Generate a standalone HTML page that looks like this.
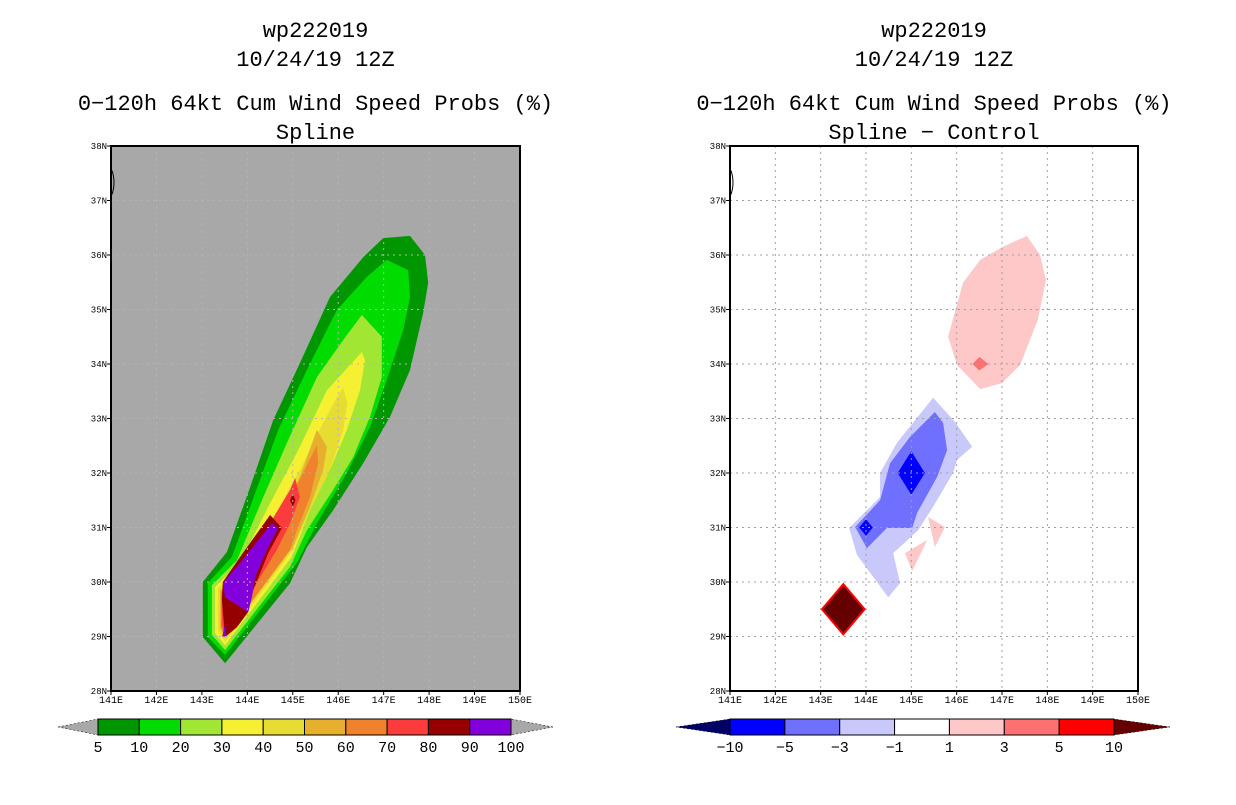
<!DOCTYPE html>
<html><head><meta charset="utf-8">
<style>
html,body{margin:0;padding:0;background:#fff;}
body{width:1236px;height:800px;overflow:hidden;font-family:"Liberation Sans",sans-serif;}
svg text{font-family:"Liberation Mono",monospace;}
</style></head>
<body>
<svg id="chart" width="1236" height="800">
<g id="left"></g>
<g id="right"></g>
</svg>
<script>
// ---- data ----
const lonTicks = [141,142,143,144,145,146,147,148,149,150];
const latTicks = [28,29,30,31,32,33,34,35,36,37,38];
const leftLevels = ["5","10","20","30","40","50","60","70","80","90","100"];
const leftColors = ["#009600","#00dc00","#a0e632","#f5f032","#e6dc32","#e6af2d","#f0822d","#fa3c3c","#960000","#8200dc"];
const rightLevels = ["−10","−5","−3","−1","1","3","5","10"];
const rightColors = ["#0000ff","#7070ff","#c8c8fa","#ffffff","#ffc8c8","#ff7070","#ff0000"];
// contour polygons [lon,lat]
const p05 = [[143.51,28.51],[143.02,28.99],[143.02,30.0],[143.55,30.55],[144.06,31.74],[144.57,32.97],[145.16,34.02],[145.82,35.23],[146.55,35.96],[146.99,36.31],[147.58,36.35],[147.91,36.0],[147.98,35.49],[147.87,34.94],[147.58,33.89],[147.14,33.03],[146.55,32.18],[145.89,31.32],[145.31,30.64],[144.94,29.98]];
const p10 = [[143.51,28.66],[143.13,28.99],[143.13,29.98],[143.66,30.46],[144.17,31.63],[144.68,32.79],[145.31,33.89],[145.97,34.99],[146.63,35.6],[147.07,35.91],[147.54,35.72],[147.58,35.23],[147.43,34.62],[147.07,33.71],[146.7,32.84],[146.19,32.0],[145.53,31.08],[145.09,30.35]];
const p20 = [[143.51,28.75],[143.22,29.03],[143.22,29.94],[143.77,30.4],[144.32,31.5],[144.87,32.55],[145.53,33.76],[146.11,34.44],[146.52,34.9],[146.96,34.5],[146.96,33.76],[146.7,33.03],[146.33,32.29],[145.89,31.69],[145.31,30.95],[144.94,30.28]];
const p30 = [[143.51,28.84],[143.29,29.06],[143.29,29.91],[143.84,30.35],[144.46,31.38],[145.09,32.37],[145.75,33.52],[146.52,34.22],[146.59,34.07],[146.48,33.52],[146.19,32.79],[145.82,32.06],[145.38,31.32],[144.98,30.46]];
const p40 = [[143.51,28.9],[143.35,29.12],[143.35,29.89],[143.95,30.28],[144.57,31.19],[145.16,32.06],[145.67,32.92],[145.97,33.39],[146.11,33.57],[146.2,33.28],[146.11,32.79],[145.82,32.06],[145.38,31.32],[145.0,30.59]];
const p50 = [[143.51,28.97],[143.4,29.16],[143.4,29.85],[143.99,30.22],[144.65,31.08],[145.16,31.93],[145.53,32.79],[145.75,32.48],[145.67,32.06],[145.38,31.38],[145.0,30.64]];
const p60 = [[143.51,28.99],[143.42,29.17],[143.42,29.82],[144.02,30.17],[144.65,30.95],[145.0,31.63],[145.53,32.51],[145.56,32.18],[145.38,31.56],[145.09,30.95],[144.94,30.59]];
const p70 = [[143.51,29.03],[143.44,29.21],[143.44,29.8],[144.06,30.09],[144.5,31.08],[144.94,31.69],[145.05,31.91],[145.16,31.56],[144.94,31.08],[144.65,30.59]];
const p80 = [[143.51,28.99],[143.44,29.67],[143.46,30.0],[143.9,30.53],[144.5,31.23],[144.76,30.99],[144.46,30.53],[144.13,29.85],[144.02,29.45],[143.77,29.17]];
const p80b = [[145.0,31.62],[145.06,31.5],[145.0,31.38],[144.94,31.5]];
const p90 = [[143.46,29.98],[143.84,30.35],[144.54,31.08],[144.68,30.99],[144.43,30.59],[144.17,30.09],[144.1,29.72],[144.02,29.45],[143.68,29.63],[143.51,29.72]];
const p90b = [[143.5,29.2],[143.55,29.0],[143.45,29.0]];
const leftPolys = [p05,p10,p20,p30,p40,p50,p60,p70,p80,p80b,p90,p90b];
const leftPolyLevel = [0,1,2,3,4,5,6,7,8,8,9,9];

const rPink = [[145.81,34.5],[146.14,35.49],[146.52,35.91],[147.02,36.15],[147.55,36.35],[147.84,36.0],[147.97,35.54],[147.79,34.81],[147.4,33.98],[147.0,33.65],[146.52,33.54],[146.01,33.98]];
const rRed = [[146.5,34.13],[146.7,34.0],[146.5,33.88],[146.35,34.0]];
const rLtBlue = [[143.63,30.99],[144.31,31.56],[144.31,32.0],[144.68,32.55],[145.48,33.38],[145.96,32.94],[146.34,32.48],[146.01,32.24],[145.92,32.0],[145.48,31.38],[145.15,30.95],[144.6,30.53],[144.75,29.98],[144.49,29.72],[143.8,30.5]];
const rMidBlue = [[143.76,31.01],[144.31,31.5],[144.53,32.18],[144.97,32.66],[145.52,33.12],[145.7,32.92],[145.79,32.42],[145.57,31.93],[145.13,31.27],[145.02,30.99],[144.46,30.99],[144.02,30.62]];
const rBlue1 = [[145.0,32.4],[145.3,32.0],[145.0,31.6],[144.7,32.0]];
const rBlue2 = [[144.0,31.15],[144.15,31.0],[144.0,30.85],[143.85,31.0]];
const rPinkT1 = [[145.37,31.19],[145.74,31.01],[145.52,30.64]];
const rPinkT2 = [[144.86,30.53],[145.35,30.77],[145.02,30.2]];
const rDark = [[143.5,29.96],[143.97,29.5],[143.5,29.04],[143.03,29.5]];
const rightPolys = [rPink,rRed,rLtBlue,rMidBlue,rBlue1,rBlue2,rPinkT1,rPinkT2,rDark];
const rightFills = ["#ffc8c8","#ff7070","#c8c8fa","#7070ff","#0000ff","#0000ff","#ffc8c8","#ffc8c8","#660000"];
const rightNames = ["pos-area-1-3","pos-area-3-5","neg-area-1-3","neg-area-3-5","neg-area-5-10","neg-area-5-10-small","pos-area-small-1","pos-area-small-2","pos-area-over-10"];

// ---- drawing ----
const NS="http://www.w3.org/2000/svg";
function mk(parent,tag,attrs,name,txt){const e=document.createElementNS(NS,tag);for(const k in attrs)e.setAttribute(k,attrs[k]);


if(txt!==undefined)e.textContent=txt;parent.appendChild(e);return e;}

function panel(g,x0,x1,y0,y1,bg,gridCol,title4,polys,fills,names,strokeIdx){
  const xs=l=>x0+(l-141)/9*(x1-x0);
  const ys=l=>y1-(l-28)/10*(y1-y0);
  const cx=(x0+x1)/2;
  mk(g,'text',{x:cx,y:37,'text-anchor':'middle','font-size':22},'title-storm','wp222019');
  mk(g,'text',{x:cx,y:66,'text-anchor':'middle','font-size':22},'title-date','10/24/19 12Z');
  mk(g,'text',{x:cx,y:110,'text-anchor':'middle','font-size':22},'title-product','0−120h 64kt Cum Wind Speed Probs (%)');
  mk(g,'text',{x:cx,y:139,'text-anchor':'middle','font-size':22},'title-method',title4);
  mk(g,'rect',{x:x0,y:y0,width:x1-x0,height:y1-y0,fill:bg},'plot-background');
  polys.forEach((p,i)=>{
    const pts=p.map(q=>xs(q[0]).toFixed(1)+','+ys(q[1]).toFixed(1)).join(' ');
    const a={points:pts,fill:fills[i]};
    if(i===strokeIdx){a.stroke='#ff0000';a['stroke-width']=2;}
    mk(g,'polygon',a,names[i]);
  });
  lonTicks.slice(1,-1).forEach(l=>mk(g,'line',{x1:xs(l),x2:xs(l),y1:y0,y2:y1,stroke:gridCol,'stroke-dasharray':'2,4'},'grid-lon'));
  latTicks.slice(1,-1).forEach(l=>mk(g,'line',{y1:ys(l),y2:ys(l),x1:x0,x2:x1,stroke:gridCol,'stroke-dasharray':'2,4'},'grid-lat'));
  mk(g,'path',{d:`M${x0+1},${ys(37.55)} q4,12 0,24`,fill:'none',stroke:'#000','stroke-width':1},'coastline');
  mk(g,'rect',{x:x0,y:y0,width:x1-x0,height:y1-y0,fill:'none',stroke:'#000','stroke-width':2},'plot-frame');
  lonTicks.forEach(l=>{mk(g,'line',{x1:xs(l),x2:xs(l),y1:y1,y2:y1+4,stroke:'#000'},'x-tick');
    mk(g,'text',{x:xs(l),y:y1+12,'text-anchor':'middle','font-size':10},'x-tick-label',l+'E');});
  latTicks.forEach(l=>{mk(g,'line',{x1:x0-4,x2:x0,y1:ys(l),y2:ys(l),stroke:'#000'},'y-tick');
    mk(g,'text',{x:x0-4,y:ys(l)+3,'text-anchor':'end','font-size':9},'y-tick-label',l+'N');});
}
const L=document.getElementById('left'), R=document.getElementById('right');
panel(L,111,520,146,691,'#a8a8a8','#b4b4b4','Spline',leftPolys,leftPolyLevel.map(i=>leftColors[i]),leftPolys.map((p,i)=>'prob-contour-'+leftLevels[leftPolyLevel[i]]),-1);
panel(R,730,1138,146,691,'#ffffff','#a0a0a0','Spline − Control',rightPolys,rightFills,rightNames,8);

function colorbar(g,bx0,bx1,tx0,tx1,colors,labels,leftTri,rightTri,name){
  const y0=719,y1=735,n=colors.length,w=(bx1-bx0)/n;
  mk(g,'polygon',{points:`${tx0},727 ${bx0},${y0} ${bx0},${y1}`,fill:leftTri,stroke:'#000','stroke-width':0.5,'stroke-dasharray':'2,2'},name+'-low-arrow');
  mk(g,'polygon',{points:`${tx1},727 ${bx1},${y0} ${bx1},${y1}`,fill:rightTri,stroke:'#000','stroke-width':0.5,'stroke-dasharray':'2,2'},name+'-high-arrow');
  colors.forEach((c,i)=>mk(g,'rect',{x:bx0+i*w,y:y0,width:w,height:y1-y0,fill:c,stroke:'#000','stroke-width':1},name+'-swatch'));
  labels.forEach((t,i)=>mk(g,'text',{x:bx0+i*w,y:752,'text-anchor':'middle','font-size':15},name+'-label',t));
}
colorbar(L,98,511,58,553,leftColors,leftLevels,'#a8a8a8','#a8a8a8','left-colorbar');
colorbar(R,730,1114,676,1170,rightColors,rightLevels,'#000066','#660000','right-colorbar');
</script>
</body></html>
